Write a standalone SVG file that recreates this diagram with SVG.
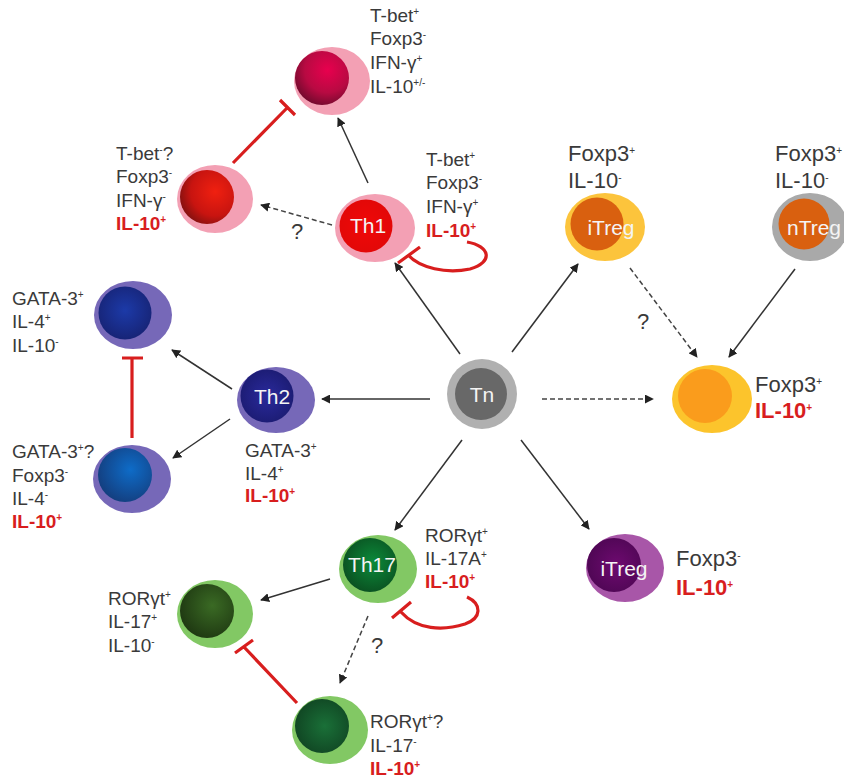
<svg xmlns="http://www.w3.org/2000/svg" width="844" height="778" viewBox="0 0 844 778">
<style>
text{font-family:"Liberation Sans",Arial,sans-serif;font-size:19px;fill:#3a3a3a}
.lg{font-size:22px}
.r{fill:#d81e1e;font-weight:bold}
.c{font-size:21px;fill:#f4f4f4;text-anchor:middle}
tspan.s{font-size:10px;baseline-shift:7px}
.a{fill:none;stroke:#333;stroke-width:1.5;marker-end:url(#ah)}
.d{fill:none;stroke:#444;stroke-width:1.5;stroke-dasharray:5 3;marker-end:url(#ah)}
.i{fill:none;stroke:#d81e1e;stroke-width:3.2}
</style>
<defs>
<marker id="ah" viewBox="0 0 10 10" refX="9" refY="5" markerWidth="9" markerHeight="9" markerUnits="userSpaceOnUse" orient="auto"><path d="M0 0L10 5L0 10z" fill="#222"/></marker>
<radialGradient id="gCr" cx=".6" cy=".35" r=".7"><stop offset="0" stop-color="#e8004e"/><stop offset=".6" stop-color="#b80a42"/><stop offset="1" stop-color="#6e0a2c"/></radialGradient>
<radialGradient id="gRe" cx=".65" cy=".4" r=".75"><stop offset="0" stop-color="#f02010"/><stop offset=".6" stop-color="#c81410"/><stop offset="1" stop-color="#701010"/></radialGradient>
<radialGradient id="gTh1" cx=".5" cy=".5" r=".6"><stop offset="0" stop-color="#f00808"/><stop offset="1" stop-color="#e00808"/></radialGradient>
<radialGradient id="gBl" cx=".5" cy=".45" r=".65"><stop offset="0" stop-color="#1c3aa8"/><stop offset="1" stop-color="#16206e"/></radialGradient>
<radialGradient id="gBl2" cx=".6" cy=".4" r=".7"><stop offset="0" stop-color="#0e6cc8"/><stop offset="1" stop-color="#143a78"/></radialGradient>
<radialGradient id="gTh2" cx=".5" cy=".5" r=".6"><stop offset="0" stop-color="#2a2a9c"/><stop offset="1" stop-color="#1a1a6e"/></radialGradient>
<radialGradient id="gG1" cx=".55" cy=".45" r=".65"><stop offset="0" stop-color="#0c8a3a"/><stop offset="1" stop-color="#0a4a1e"/></radialGradient>
<radialGradient id="gG2" cx=".6" cy=".4" r=".7"><stop offset="0" stop-color="#3a6a24"/><stop offset="1" stop-color="#1c3410"/></radialGradient>
<radialGradient id="gG3" cx=".55" cy=".5" r=".7"><stop offset="0" stop-color="#1a7038"/><stop offset="1" stop-color="#0e3c1e"/></radialGradient>
<radialGradient id="gP" cx=".55" cy=".5" r=".65"><stop offset="0" stop-color="#6e0a70"/><stop offset="1" stop-color="#4a0650"/></radialGradient>
</defs>

<g id="connectors">
<path class="a" d="M368 183L338 118"/>
<path class="d" d="M332 225L261 205"/>
<path class="i" d="M233 163L287 108M280 100L295 115"/>
<path class="i" d="M467 242C490 246 494 262 470 269C446 274 420 268 408 255M398 263L420 247"/>
<path class="a" d="M460 354L395 263"/>
<path class="a" d="M512 352L578 264"/>
<path class="d" d="M630 268L697 357"/>
<path class="a" d="M795 269L729 357"/>
<path class="d" d="M542 399L653 399"/>
<path class="a" d="M430 399L322 399"/>
<path class="a" d="M232 389L172 350"/>
<path class="a" d="M230 419L173 458"/>
<path class="i" d="M132 438L132 358M122 358L143 358"/>
<path class="a" d="M462 440L395 530"/>
<path class="a" d="M521 440L589 529"/>
<path class="a" d="M330 579L261 600"/>
<path class="d" d="M368 616L340 683"/>
<path class="i" d="M297 703L244 647M235 653L253 640"/>
<path class="i" d="M467 597C482 604 482 618 465 624C443 631 417 630 401 612M392 618L411 602"/>
</g>

<g id="cell-crimson">
<ellipse cx="332" cy="81" rx="38" ry="34" fill="#f3a0b4"/>
<circle cx="322" cy="78" r="27" fill="url(#gCr)"/>
<text x="370" y="22">T-bet<tspan class="s">+</tspan></text>
<text x="370" y="45">Foxp3<tspan class="s">-</tspan></text>
<text x="370" y="69">IFN-γ<tspan class="s">+</tspan></text>
<text x="370" y="93">IL-10<tspan class="s">+/-</tspan></text>
</g>

<g id="cell-red">
<ellipse cx="215" cy="199" rx="38" ry="34" fill="#f3a0b4"/>
<circle cx="207" cy="197" r="27" fill="url(#gRe)"/>
<text x="116" y="160">T-bet<tspan class="s">-</tspan>?</text>
<text x="116" y="183">Foxp3<tspan class="s">-</tspan></text>
<text x="116" y="207">IFN-γ<tspan class="s">-</tspan></text>
<text class="r" x="116" y="230">IL-10<tspan class="s">+</tspan></text>
</g>

<g id="th1">
<ellipse cx="375" cy="228" rx="40" ry="34" fill="#f3a0b4"/>
<circle cx="366" cy="226" r="26.500" fill="url(#gTh1)"/>
<text class="c" x="368" y="233">Th1</text>
<text x="426" y="166">T-bet<tspan class="s">+</tspan></text>
<text x="426" y="189">Foxp3<tspan class="s">-</tspan></text>
<text x="426" y="213">IFN-γ<tspan class="s">+</tspan></text>
<text class="r" x="426" y="237">IL-10<tspan class="s">+</tspan></text>
</g>

<g id="itreg-orange">
<ellipse cx="605" cy="227" rx="40" ry="34" fill="#fcc43c"/>
<circle cx="597" cy="224" r="26.500" fill="#d9600f"/>
<text class="c" x="611" y="235">iTreg</text>
<text class="lg" x="568" y="161">Foxp3<tspan class="s">+</tspan></text>
<text class="lg" x="568" y="188">IL-10<tspan class="s">-</tspan></text>
</g>

<g id="ntreg">
<ellipse cx="810" cy="227" rx="38" ry="34" fill="#a9a9a9"/>
<circle cx="804" cy="224" r="25.500" fill="#d9600f"/>
<text class="c" x="814" y="235">nTreg</text>
<text class="lg" x="775" y="161">Foxp3<tspan class="s">+</tspan></text>
<text class="lg" x="775" y="188">IL-10<tspan class="s">-</tspan></text>
</g>

<g id="treg-il10">
<ellipse cx="712" cy="399" rx="40" ry="34" fill="#fcc42c"/>
<circle cx="705" cy="396" r="27" fill="#fa9c1c"/>
<text class="lg" x="755" y="392">Foxp3<tspan class="s">+</tspan></text>
<text class="lg r" x="755" y="418">IL-10<tspan class="s">+</tspan></text>
</g>

<g id="tn">
<circle cx="482" cy="394" r="35" fill="#b0b0b0"/>
<circle cx="481" cy="394" r="26" fill="#686868"/>
<text class="c" x="482" y="402">Tn</text>
</g>

<g id="itreg-purple">
<ellipse cx="625" cy="568" rx="39" ry="34" fill="#a856a8"/>
<circle cx="614" cy="565" r="27" fill="url(#gP)"/>
<text class="c" x="624" y="576">iTreg</text>
<text class="lg" x="676" y="566">Foxp3<tspan class="s">-</tspan></text>
<text class="lg r" x="676" y="595">IL-10<tspan class="s">+</tspan></text>
</g>

<g id="th2">
<ellipse cx="276" cy="400" rx="39" ry="33" fill="#7668b8"/>
<circle cx="267" cy="396" r="26.500" fill="url(#gTh2)"/>
<text class="c" x="272" y="404">Th2</text>
<text x="245" y="457">GATA-3<tspan class="s">+</tspan></text>
<text x="245" y="480">IL-4<tspan class="s">+</tspan></text>
<text class="r" x="245" y="502">IL-10<tspan class="s">+</tspan></text>
</g>

<g id="cell-blue-top">
<ellipse cx="133" cy="315" rx="39" ry="34" fill="#7668b8"/>
<circle cx="125" cy="313" r="26.500" fill="url(#gBl)"/>
<text x="12" y="305">GATA-3<tspan class="s">+</tspan></text>
<text x="12" y="328">IL-4<tspan class="s">+</tspan></text>
<text x="12" y="352">IL-10<tspan class="s">-</tspan></text>
</g>

<g id="cell-blue-bottom">
<ellipse cx="132" cy="479" rx="39" ry="34" fill="#7668b8"/>
<circle cx="125" cy="475" r="27" fill="url(#gBl2)"/>
<text x="12" y="458">GATA-3<tspan class="s">+</tspan>?</text>
<text x="12" y="482">Foxp3<tspan class="s">-</tspan></text>
<text x="12" y="505">IL-4<tspan class="s">-</tspan></text>
<text class="r" x="12" y="528">IL-10<tspan class="s">+</tspan></text>
</g>

<g id="th17">
<ellipse cx="378" cy="569" rx="39" ry="34" fill="#82c864"/>
<circle cx="370" cy="565" r="27" fill="url(#gG1)"/>
<text class="c" x="372" y="572">Th17</text>
<text x="425" y="542">RORγt<tspan class="s">+</tspan></text>
<text x="425" y="565">IL-17A<tspan class="s">+</tspan></text>
<text class="r" x="425" y="588">IL-10<tspan class="s">+</tspan></text>
</g>

<g id="cell-green-left">
<ellipse cx="215" cy="614" rx="38" ry="34" fill="#82c864"/>
<circle cx="207" cy="611" r="27" fill="url(#gG2)"/>
<text x="108" y="605">RORγt<tspan class="s">+</tspan></text>
<text x="108" y="628">IL-17<tspan class="s">+</tspan></text>
<text x="108" y="652">IL-10<tspan class="s">-</tspan></text>
</g>

<g id="cell-green-bottom">
<ellipse cx="330" cy="730" rx="38" ry="34" fill="#82c864"/>
<circle cx="322" cy="726" r="27" fill="url(#gG3)"/>
<text x="370" y="728">RORγt<tspan class="s">+</tspan>?</text>
<text x="370" y="752">IL-17<tspan class="s">-</tspan></text>
<text class="r" x="370" y="775">IL-10<tspan class="s">+</tspan></text>
</g>

<g id="question-marks">
<text x="291" y="239" class="lg">?</text>
<text x="637" y="329" class="lg">?</text>
<text x="371" y="653" class="lg">?</text>
</g>
</svg>
